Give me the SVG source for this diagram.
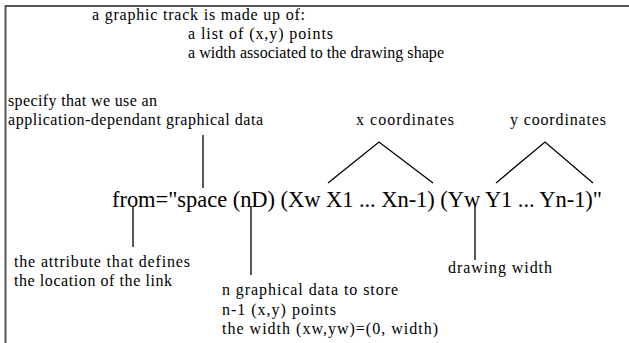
<svg xmlns="http://www.w3.org/2000/svg" width="629" height="343" viewBox="0 0 629 343">
<style>
.t{font-family:"Liberation Serif","Times New Roman",serif;font-size:16px;fill:#000}
.m{font-family:"Liberation Serif","Times New Roman",serif;font-size:22.5px;fill:#000}
.c{stroke:#000;stroke-width:1.3;fill:none}
.b{stroke:#555;stroke-width:2;fill:none}
</style>
<rect width="629" height="343" fill="#fff"/>
<g id="frame"><path class="b" d="M5.5,343 V6 H629"/></g>
<g id="header">
<text class="t" x="92" y="20" textLength="213" lengthAdjust="spacing">a graphic track is made up of:</text>
<text class="t" x="188" y="39" textLength="145" lengthAdjust="spacing">a list of (x,y) points</text>
<text class="t" x="188" y="58" textLength="256" lengthAdjust="spacing">a width associated to the drawing shape</text>
</g>
<g id="specify">
<text class="t" x="8" y="106" textLength="149" lengthAdjust="spacing">specify that we use an</text>
<text class="t" x="8" y="125" textLength="255" lengthAdjust="spacing">application-dependant graphical data</text>
</g>
<g id="xcoord"><text class="t" x="356" y="125" textLength="98" lengthAdjust="spacing">x coordinates</text></g>
<g id="ycoord"><text class="t" x="510" y="125" textLength="96" lengthAdjust="spacing">y coordinates</text></g>
<g id="main"><text class="m" x="112" y="207" textLength="490" lengthAdjust="spacing">from="space (nD) (Xw X1 ... Xn-1) (Yw Y1 ... Yn-1)"</text></g>
<g id="attribute">
<text class="t" x="14" y="267" textLength="176" lengthAdjust="spacing">the attribute that defines</text>
<text class="t" x="14" y="286" textLength="158" lengthAdjust="spacing">the location of the link</text>
</g>
<g id="drawingwidth"><text class="t" x="448" y="273" textLength="104" lengthAdjust="spacing">drawing width</text></g>
<g id="ndata">
<text class="t" x="222" y="295" textLength="176" lengthAdjust="spacing">n graphical data to store</text>
<text class="t" x="222" y="315" textLength="114" lengthAdjust="spacing">n-1 (x,y) points</text>
<text class="t" x="222" y="334" textLength="216" lengthAdjust="spacing">the width (xw,yw)=(0, width)</text>
</g>
<g id="connectors">
<line class="c" x1="203" y1="135" x2="203" y2="188"/>
<line class="c" x1="133" y1="206" x2="133" y2="247"/>
<line class="c" x1="251" y1="206" x2="251" y2="275"/>
<line class="c" x1="475" y1="206" x2="475" y2="260"/>
<polyline class="c" points="328,183 379,142 433,183"/>
<polyline class="c" points="496,183 545,142 593,183"/>
</g>
</svg>
